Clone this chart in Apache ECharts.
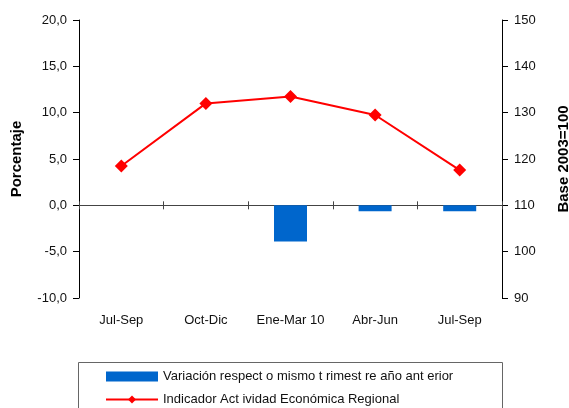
<!DOCTYPE html>
<html>
<head>
<meta charset="utf-8">
<script src="https://cdn.jsdelivr.net/npm/echarts@6/dist/echarts.min.js"></script>
<style>
	html, body { margin: 0; padding: 0; background: #fff; }
	#chart { width: 569px; height: 408px; }
</style>
</head>
<body>
<div id="chart"></div>
<script>
// trimestres
var categorias = ['Jul-Sep', 'Oct-Dic', 'Ene-Mar 10', 'Abr-Jun', 'Jul-Sep'];
// variación respecto mismo trimestre año anterior (%)
var variacion = ['-', '-', -3.9, -0.65, -0.65];
// indicador de actividad (base 2003=100)
var indicador = [118.5, 132.0, 133.5, 129.5, 117.6];

var nombreBarra = 'Variación respect o mismo t rimest re año ant erior';
var nombreLinea = 'Indicador Act ividad Económica Regional';

var fuente = 'Liberation Sans, Arial, sans-serif';

var myChart = echarts.init(document.getElementById('chart'));

// eje de categorias sobre el cero (solo linea y marcas)
function ejeCero(inside) {
	return {
		type: 'category',
		data: categorias,
		axisLine: { show: true, onZero: true, onZeroAxisIndex: 0, lineStyle: { color: '#444', width: 1 } },
		axisTick: { show: true, length: 4, inside: inside, lineStyle: { color: '#444' } },
		axisLabel: { show: false }
	};
}

var option = {
	animation: false,
	backgroundColor: '#fff',
	grid: {
		left: 79,
		right: 67,
		top: 20,
		bottom: 110,
		containLabel: false,
		outerBoundsMode: 'none'
	},
	legend: {
		orient: 'vertical',
		left: 105,
		top: 370,
		padding: 0,
		itemWidth: 52,
		itemHeight: 10,
		itemGap: 10,
		textStyle: { fontFamily: fuente, fontSize: 13, color: '#111' },
		data: [{ name: nombreBarra, icon: 'rect' }, { name: nombreLinea }]
	},
	graphic: [{
		type: 'rect',
		shape: { x: 78.5, y: 362.5, width: 424, height: 60 },
		style: { fill: 'none', stroke: '#666', lineWidth: 1 },
		silent: true
	}],
	xAxis: [{
		type: 'category',
		data: categorias,
		axisLine: { show: false, onZero: false },
		axisTick: { show: false },
		axisLabel: {
			interval: 0,
			margin: 16,
			fontFamily: fuente,
			fontSize: 13,
			color: '#111'
		}
	}, ejeCero(true), ejeCero(false)],
	yAxis: [{
		type: 'value',
		min: -10,
		max: 20,
		interval: 5,
		name: 'Porcentaje',
		nameLocation: 'middle',
		nameRotate: 90,
		nameGap: 55,
		nameTextStyle: { fontFamily: fuente, fontSize: 15, fontWeight: 'bold', color: '#000' },
		axisLine: { show: true, lineStyle: { color: '#000' } },
		axisTick: { show: true, length: 6, lineStyle: { color: '#000' } },
		splitLine: { show: false },
		axisLabel: {
			margin: 12,
			fontFamily: fuente,
			fontSize: 13,
			color: '#111',
			formatter: function (v) { return v.toFixed(1).replace('.', ','); }
		}
	}, {
		type: 'value',
		min: 90,
		max: 150,
		interval: 10,
		position: 'right',
		name: 'Base 2003=100',
		nameLocation: 'middle',
		nameRotate: 90,
		nameGap: 54,
		nameTextStyle: { fontFamily: fuente, fontSize: 15, fontWeight: 'bold', color: '#000' },
		axisLine: { show: true, lineStyle: { color: '#000' } },
		axisTick: { show: true, length: 6, lineStyle: { color: '#000' } },
		splitLine: { show: false },
		axisLabel: {
			margin: 12,
			fontFamily: fuente,
			fontSize: 13,
			color: '#111'
		}
	}],
	series: [{
		name: nombreBarra,
		type: 'bar',
		xAxisIndex: 0,
		yAxisIndex: 0,
		data: variacion,
		barWidth: 33,
		itemStyle: { color: '#0066CC' }
	}, {
		name: nombreLinea,
		type: 'line',
		xAxisIndex: 0,
		yAxisIndex: 1,
		data: indicador,
		symbol: 'diamond',
		symbolSize: 13,
		lineStyle: { color: '#FF0000', width: 2 },
		itemStyle: { color: '#FF0000' }
	}]
};

myChart.setOption(option);
</script>
</body>
</html>
